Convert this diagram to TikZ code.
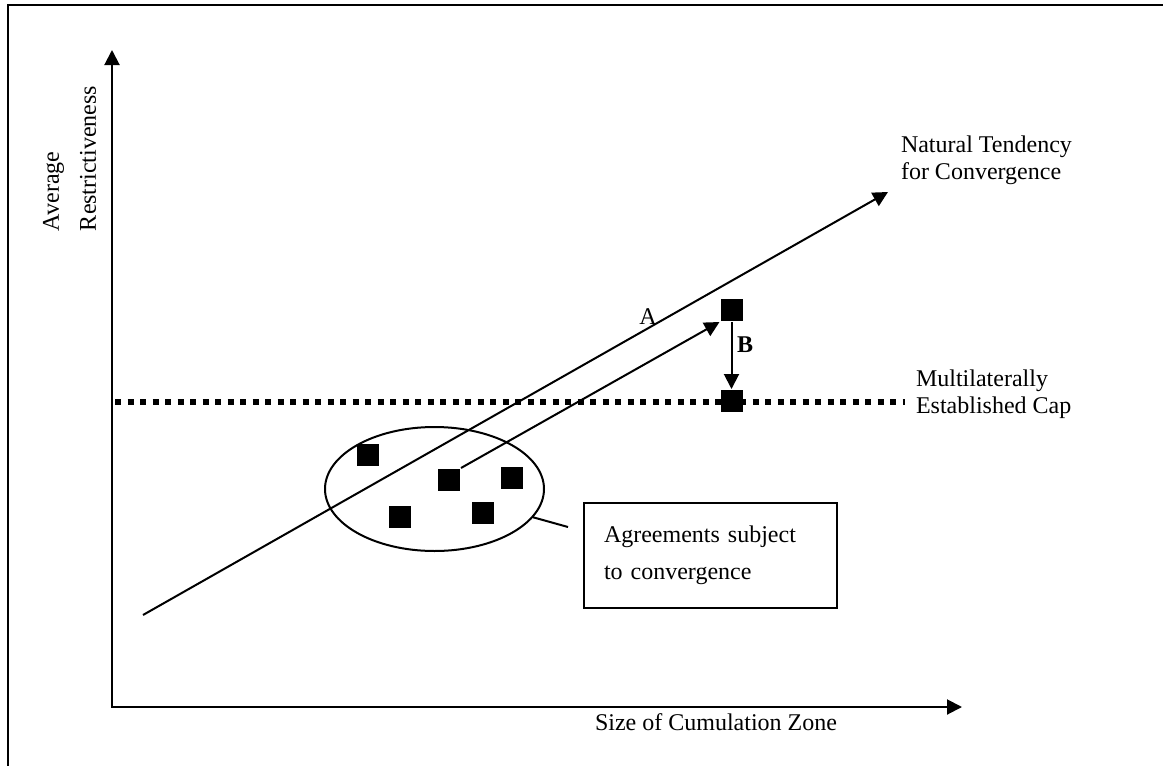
\documentclass[tikz,border=0pt]{standalone}
\usepackage{fontspec}
\setmainfont{Liberation Serif}
\usetikzlibrary{arrows.meta,shapes.geometric}
\begin{document}
\begin{tikzpicture}[x=0.5pt,y=-0.5pt,line width=1pt,
  tip/.style={-{Triangle[length=7.5pt,width=7.5pt]}},
  sq/.style={fill=black,draw=none,minimum size=11pt,inner sep=0pt},
  lbl/.style={font=\fontsize{12}{13.5}\selectfont,inner sep=0pt,align=left},
  wide/.style={font=\fontsize{12}{18.5}\selectfont,inner sep=0pt,align=left},
  capline/.style={line width=3.25pt,dash pattern=on 3pt off 3.25pt}]
\useasboundingbox (0,0) rectangle (1163,766);
% frame
\draw (8,766) -- (8,5) -- (1163,5);
% axes
\coordinate (O) at (112,707);
\coordinate (Ytop) at (112,50);
\coordinate (Xend) at (962,707);
\draw[{Triangle[length=7.5pt,width=7.5pt]}-{Triangle[length=7.5pt,width=7.5pt]}] (Ytop) -- (O) -- (Xend);
\node[wide,rotate=90,anchor=south west] (ylab) at (97,232) {Average\\Restrictiveness};
\node[lbl,anchor=base west] (xlab) at (594,730) {Size of Cumulation Zone};
% cap line
\coordinate (capL) at (115,402);
\coordinate (capR) at (905,402);
\draw[capline] (capL) -- (capR);
\node[lbl,anchor=base west] (caplab) at (915,413) {Multilaterally\\Established Cap};
% natural tendency
\coordinate (ntS) at (143,615);
\coordinate (ntE) at (888,192);
\draw[tip] (ntS) -- (ntE);
\node[lbl,anchor=base west] (ntlab) at (900,179) {Natural Tendency\\for Convergence};
% cluster
\node[ellipse,draw,minimum width=109.5pt,minimum height=62pt,inner sep=0pt] (cl) at (434.5,489) {};
\node[sq] (s1) at (367.5,455) {};
\node[sq] (s2) at (449,480) {};
\node[sq] (s3) at (512,478) {};
\node[sq] (s4) at (400,517) {};
\node[sq] (s5) at (483,513) {};
\node[sq] (sT) at (731.5,310) {};
\node[sq] (sB) at (731.5,401) {};
\draw[tip] (s2.north east) -- (sT.south west);
\draw[tip] (sT.south) -- (sB.north);
\node[lbl] (labA) at (648,317) {A};
\node[lbl,font=\fontsize{12}{13.5}\selectfont\bfseries] (labB) at (745,345) {B};
% box
\node[draw,minimum width=126.5pt,minimum height=52.5pt,text width=106.5pt,inner xsep=10pt,inner ysep=0pt,align=left,font=\fontsize{12}{18.5}\selectfont] (box) at (710.5,555.5) {Agreements subject\\to convergence};
\coordinate (boxlead) at (568,527);
\draw (cl.-16) -- (boxlead);
\end{tikzpicture}
\end{document}
